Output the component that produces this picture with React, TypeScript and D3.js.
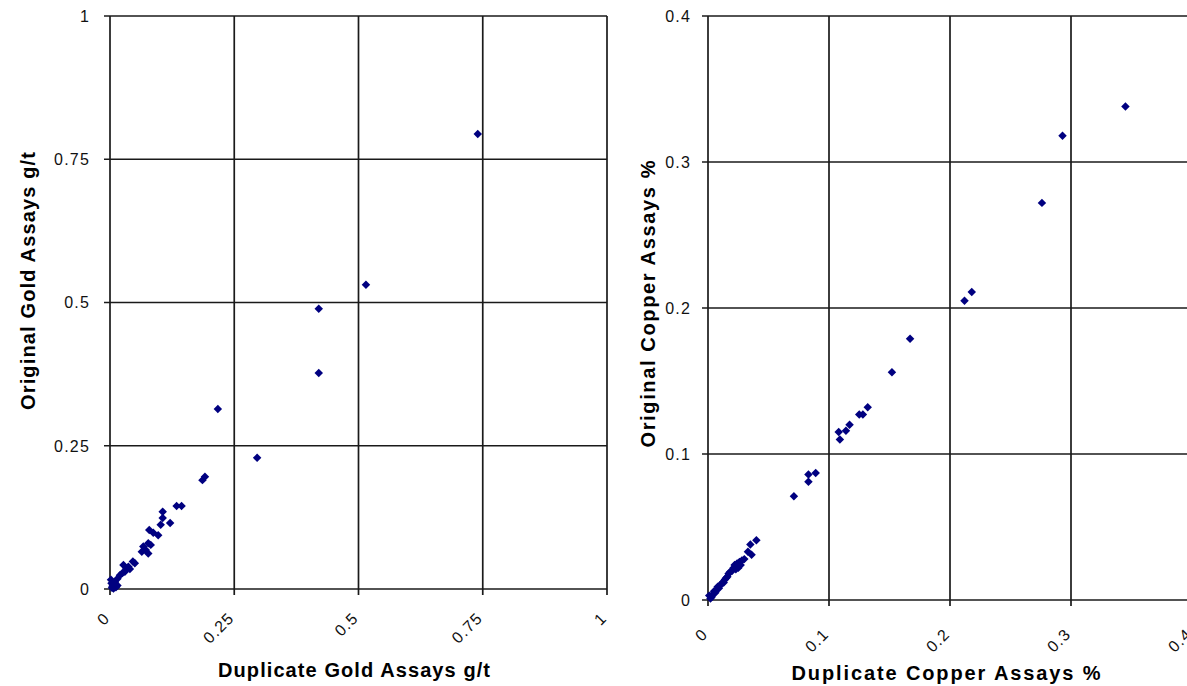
import React, { useEffect, useRef } from 'react'
import * as d3 from 'd3'

// gold duplicates: [duplicate g/t, original g/t]
const goldPairs: [number, number][] = [
  [0.74, 0.794], [0.515, 0.531], [0.42, 0.489], [0.42, 0.377], [0.296, 0.229],
  [0.217, 0.314], [0.191, 0.196], [0.186, 0.19], [0.134, 0.145], [0.144, 0.145],
  [0.106, 0.135], [0.106, 0.124], [0.102, 0.112], [0.121, 0.115], [0.079, 0.103],
  [0.087, 0.098], [0.097, 0.094], [0.067, 0.074], [0.077, 0.08], [0.082, 0.077],
  [0.064, 0.065], [0.077, 0.062], [0.072, 0.068], [0.046, 0.048], [0.037, 0.039],
  [0.027, 0.042], [0.03, 0.03], [0.04, 0.035], [0.02, 0.024], [0.015, 0.018],
  [0.01, 0.012], [0.003, 0.01], [0.007, 0.001], [0.002, 0.016], [0.005, 0.005],
  [0.012, 0.003], [0.008, 0.008], [0.015, 0.006], [0.004, 0.002], [0.025, 0.028],
  [0.05, 0.045], [0.033, 0.036],
]

// copper duplicates: [duplicate %, original %]
const copperPairs: [number, number][] = [
  [0.345, 0.338], [0.293, 0.318], [0.276, 0.272], [0.218, 0.211], [0.212, 0.205],
  [0.167, 0.179], [0.152, 0.156], [0.132, 0.132], [0.125, 0.127], [0.128, 0.127],
  [0.117, 0.12], [0.114, 0.116], [0.108, 0.115], [0.109, 0.11], [0.089, 0.087],
  [0.083, 0.086], [0.083, 0.081], [0.071, 0.071], [0.04, 0.041], [0.035, 0.038],
  [0.033, 0.033], [0.036, 0.031], [0.026, 0.026], [0.022, 0.024], [0.021, 0.022],
  [0.018, 0.019], [0.016, 0.016], [0.014, 0.014], [0.012, 0.012], [0.01, 0.01],
  [0.009, 0.008], [0.007, 0.007], [0.006, 0.005], [0.004, 0.004], [0.003, 0.002],
  [0.002, 0.001], [0.001, 0.003], [0.005, 0.006], [0.008, 0.009], [0.011, 0.011],
  [0.013, 0.012], [0.015, 0.015], [0.017, 0.018], [0.02, 0.02], [0.024, 0.025],
  [0.028, 0.027], [0.03, 0.028], [0.025, 0.022], [0.023, 0.021], [0.027, 0.024],
]

const goldTicks = [0, 0.25, 0.5, 0.75, 1]
const goldTickLabels = ['0', '0.25', '0.5', '0.75', '1']
const copperTicks = [0, 0.1, 0.2, 0.3, 0.4]
const copperTickLabels = ['0', '0.1', '0.2', '0.3', '0.4']

const FONT = 'Liberation Sans, Arial, sans-serif'

function drawPanel(svg, opts) {
  const { box, pairs, ticks, labels, xTitle, yTitle } = opts
  const x = d3.scaleLinear().domain([0, ticks[ticks.length - 1]]).range([box.x0, box.x1])
  const y = d3.scaleLinear().domain([0, ticks[ticks.length - 1]]).range([box.y0, box.y1])

  const g = svg.append('g')

  // grid lines (incl. axis lines and outside tick marks)
  g.selectAll('.vgrid')
    .data(ticks)
    .enter()
    .append('line')
    .attr('x1', (d) => x(d))
    .attr('x2', (d) => x(d))
    .attr('y1', box.y1)
    .attr('y2', box.y0 + 6)
    .attr('stroke', '#1a1a1a')
    .attr('stroke-width', 1.7)
  g.selectAll('.hgrid')
    .data(ticks)
    .enter()
    .append('line')
    .attr('x1', box.x0 - 6)
    .attr('x2', box.x1)
    .attr('y1', (d) => y(d))
    .attr('y2', (d) => y(d))
    .attr('stroke', '#1a1a1a')
    .attr('stroke-width', 1.7)

  // y tick labels
  g.selectAll('.ylab')
    .data(ticks)
    .enter()
    .append('text')
    .attr('x', box.x0 - opts.yLabGap)
    .attr('y', (d) => y(d))
    .attr('dy', '0.36em')
    .attr('text-anchor', 'end')
    .style('font-family', FONT)
    .style('font-size', '16px')
    .style('letter-spacing', '1.2px')
    .style('fill', '#111')
    .text((d, i) => labels[i])

  // x tick labels, rotated
  g.selectAll('.xlab')
    .data(ticks)
    .enter()
    .append('text')
    .attr('transform', (d) => `translate(${x(d) + 1},${box.y0 + opts.xLabDy}) rotate(-45)`)
    .attr('text-anchor', 'end')
    .style('font-family', FONT)
    .style('font-size', '16px')
    .style('letter-spacing', '1.2px')
    .style('fill', '#111')
    .text((d, i) => labels[i])

  // points
  const diamond = d3.symbol().type(d3.symbolSquare).size(36)
  g.selectAll('.pt')
    .data(pairs)
    .enter()
    .append('path')
    .attr('d', diamond)
    .attr('transform', (d) => `translate(${x(d[0])},${y(d[1])}) rotate(45)`)
    .attr('fill', '#000080')

  // axis titles
  g.append('text')
    .attr('x', xTitle.cx)
    .attr('y', xTitle.y)
    .attr('text-anchor', 'middle')
    .attr('textLength', xTitle.len)
    .attr('lengthAdjust', 'spacing')
    .style('font-family', FONT)
    .style('font-size', '20px')
    .style('font-weight', 'bold')
    .text(xTitle.text)

  g.append('text')
    .attr('transform', `translate(${yTitle.x},${yTitle.cy}) rotate(-90)`)
    .attr('text-anchor', 'middle')
    .attr('textLength', yTitle.len)
    .attr('lengthAdjust', 'spacing')
    .style('font-family', FONT)
    .style('font-size', '20px')
    .style('font-weight', 'bold')
    .text(yTitle.text)
}

export default function App() {
  const svgRef = useRef(null)

  useEffect(() => {
    const svg = d3.select(svgRef.current)
    svg.selectAll('*').remove()

    drawPanel(svg, {
      box: { x0: 110, x1: 607, y0: 589, y1: 16 },
      pairs: goldPairs,
      ticks: goldTicks,
      labels: goldTickLabels,
      yLabGap: 20,
      xLabDy: 30,
      xTitle: { text: 'Duplicate Gold Assays g/t', cx: 354, y: 677, len: 272 },
      yTitle: { text: 'Original Gold Assays g/t', x: 35, cy: 281, len: 258 },
    })

    drawPanel(svg, {
      box: { x0: 708, x1: 1192, y0: 600, y1: 16 },
      pairs: copperPairs,
      ticks: copperTicks,
      labels: copperTickLabels,
      yLabGap: 17,
      xLabDy: 35,
      xTitle: { text: 'Duplicate Copper Assays %', cx: 946, y: 680, len: 309 },
      yTitle: { text: 'Original Copper Assays %', x: 655, cy: 304, len: 287 },
    })
  }, [])

  return (
    <svg
      ref={svgRef}
      width="1187"
      height="686"
      style={{ position: 'absolute', left: 0, top: 0, background: '#fff' }}
    ></svg>
  )
}
